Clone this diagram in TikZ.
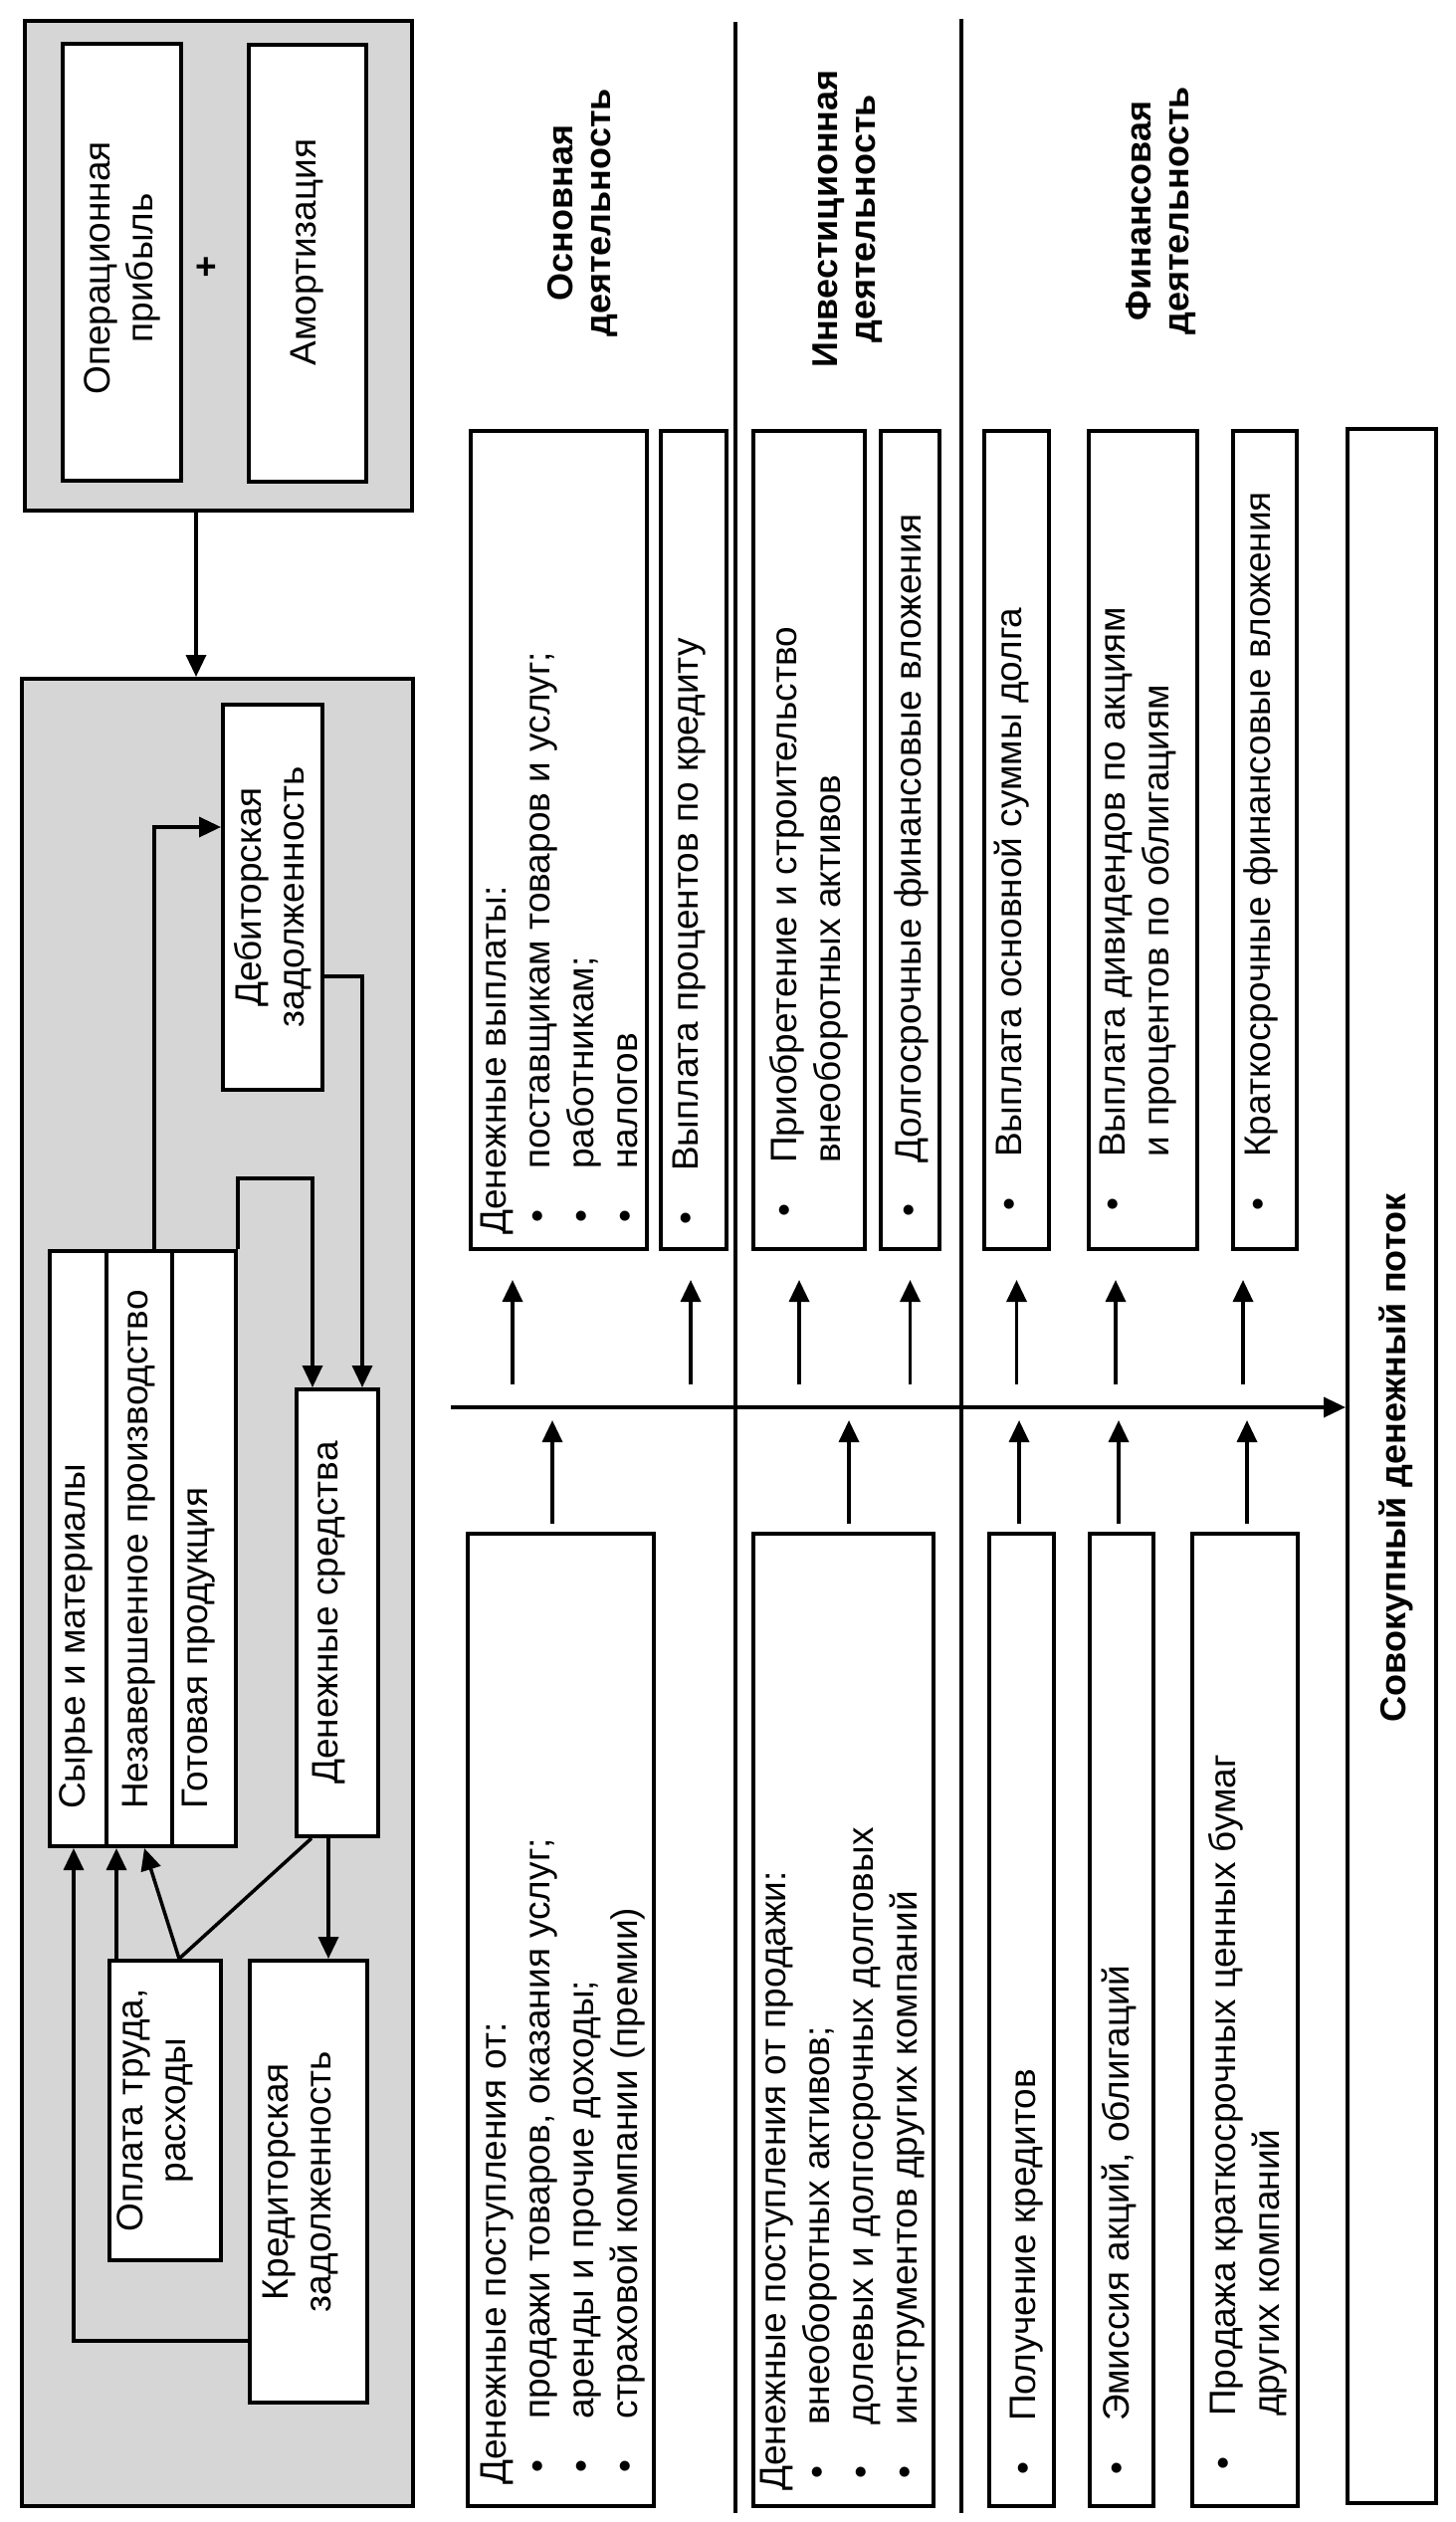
\documentclass[tikz,border=0pt]{standalone}
\usepackage{fontspec}
\setmainfont{Liberation Sans}
\usetikzlibrary{arrows.meta,calc}
\newcommand{\bl}{\makebox[66pt][l]{\hspace{12pt}•}}
\newcommand{\ind}{\hspace*{66pt}}
\begin{document}
\begin{tikzpicture}[x=1pt,y=-1pt,
  box/.style={draw, line width=4pt, fill=white, inner sep=0pt},
  grp/.style={draw, line width=4pt, fill=black!16, inner sep=0pt},
  txt/.style={rotate=90, inner sep=0pt, anchor=north west, font=\fontsize{37pt}{44pt}\selectfont, align=left},
  ctxt/.style={rotate=90, inner sep=0pt, font=\fontsize{37pt}{43pt}\selectfont, align=center},
  wtxt/.style={rotate=90, inner sep=0pt, anchor=west, font=\fontsize{37pt}{43pt}\selectfont},
  btxt/.style={rotate=90, inner sep=0pt, font=\bfseries\fontsize{36pt}{38pt}\selectfont, align=center},
  arr/.style={line width=3.5pt, -{Triangle[length=22pt,width=20pt]}},
  ln/.style={line width=3.5pt},
]
\useasboundingbox (0,0) rectangle (1462,2534);

% ---------- left group ----------
\node[grp, minimum width=389pt, minimum height=492pt] (tb) at (219.5,267) {};
\node[box, minimum width=119pt, minimum height=439pt] (op) at (122.5,263.5) {};
\node[box, minimum width=118pt, minimum height=439pt] (am) at (309,264.5) {};

\node[grp, minimum width=393pt, minimum height=1836pt] (bb) at (218.5,1600) {};
\node[box, minimum width=100pt, minimum height=387pt] (dz) at (274,901.5) {};
\node[box, minimum width=57pt, minimum height=598pt] (s1) at (78.5,1556) {};
\node[box, minimum width=66pt, minimum height=598pt] (s2) at (140,1556) {};
\node[box, minimum width=64pt, minimum height=598pt] (s3) at (205,1556) {};
\node[box, minimum width=82pt, minimum height=449pt] (ds) at (339,1620.5) {};
\node[box, minimum width=112pt, minimum height=301pt] (ot) at (166,2120.5) {};
\node[box, minimum width=118pt, minimum height=444pt] (kz) at (310,2192) {};

% texts left group
\node[ctxt] (opt) at ([yshift=-6pt]op.center) {Операционная\\прибыль};
\node[font=\bfseries\fontsize{37pt}{37pt}\selectfont, inner sep=0pt] (plus) at (207,270) {+};
\node[ctxt] (amt) at ([yshift=11pt]am.center) {Амортизация};
\node[ctxt] (dzt) at (dz.center) {Дебиторская\\задолженность};
\node[wtxt] (s1t) at (76,1818) {Сырье и материалы};
\node[wtxt] (s2t) at (140,1818) {Незавершенное производство};
\node[wtxt] (s3t) at (200,1818) {Готовая продукция};
\node[ctxt] (dst) at ([xshift=-8pt]ds.center) {Денежные средства};
\node[ctxt] (ott) at ([xshift=-10pt]ot.center) {Оплата труда,\\расходы};
\node[ctxt] (kzt) at ([xshift=-8pt]kz.center) {Кредиторская\\задолженность};

% connectors left group
\draw[arr] ([xshift=-22.5pt]tb.south) -- ([xshift=-22.5pt]tb.south |- bb.north);
\draw[arr] ([xshift=15pt]s2.north) |- ([yshift=70.5pt]dz.west);
\draw[arr] ([yshift=-79.5pt]dz.east) -| ([xshift=25pt]ds.north);
\draw[arr] (s3.north east) -- ++(0,-71) -| ([xshift=-25pt]ds.north);
\draw[arr] ([yshift=-160pt]kz.west) -| ([xshift=-4.5pt]s1.south);
\draw[arr] ([xshift=-49pt]ot.north) -- ([xshift=-49pt]ot.north |- s2.south);
\draw[arr] ([xshift=14pt]ot.north) -- ([xshift=5pt]s2.south);
\draw[ln] ([xshift=-26pt]ds.south) -- ([xshift=14pt]ot.north);
\draw[arr] ([xshift=-9pt]ds.south) -- ([xshift=-9pt]ds.south |- kz.north);

% ---------- right part ----------
% separators
\coordinate (s1top) at (739,22);
\coordinate (s1bot) at (739,2525);
\coordinate (s2top) at (966,19);
\coordinate (s2bot) at (966,2525);
\draw[ln] (s1top) -- (s1bot);
\draw[ln] (s2top) -- (s2bot);

% outflow boxes
\node[box, minimum width=177pt, minimum height=822pt] (o1) at (561.5,844) {};
\node[box, minimum width=66pt, minimum height=822pt] (o2) at (697,844) {};
\node[box, minimum width=112pt, minimum height=822pt] (io1) at (813,844) {};
\node[box, minimum width=59pt, minimum height=822pt] (io2) at (914.5,844) {};
\node[box, minimum width=65pt, minimum height=822pt] (fo1) at (1021.5,844) {};
\node[box, minimum width=109pt, minimum height=822pt] (fo2) at (1148.5,844) {};
\node[box, minimum width=64pt, minimum height=822pt] (fo3) at (1271,844) {};
% total
\node[box, minimum width=89pt, minimum height=2084pt] (tot) at (1398.5,1473) {};
% inflow boxes
\node[box, minimum width=187pt, minimum height=977pt] (p1) at (563.5,2029.5) {};
\node[box, minimum width=181pt, minimum height=977pt] (ip) at (847.5,2029.5) {};
\node[box, minimum width=65pt, minimum height=977pt] (fp1) at (1026.5,2029.5) {};
\node[box, minimum width=64pt, minimum height=977pt] (fp2) at (1127,2029.5) {};
\node[box, minimum width=106pt, minimum height=977pt] (fp3) at (1251,2029.5) {};

% axis
\coordinate (ax0) at (453,1414);
\draw[arr] (ax0) -- (tot.west |- ax0);

% outflow arrows
\draw[arr, shorten <=23pt, shorten >=29pt] ([xshift=-46.5pt]o1.south |- ax0) -- ([xshift=-46.5pt]o1.south);
\draw[arr, shorten <=23pt, shorten >=29pt] ([xshift=-3pt]o2.south |- ax0) -- ([xshift=-3pt]o2.south);
\draw[arr, shorten <=23pt, shorten >=29pt] ([xshift=-10pt]io1.south |- ax0) -- ([xshift=-10pt]io1.south);
\draw[arr, shorten <=23pt, shorten >=29pt] (io2.south |- ax0) -- (io2.south);
\draw[arr, shorten <=23pt, shorten >=29pt] (fo1.south |- ax0) -- (fo1.south);
\draw[arr, shorten <=23pt, shorten >=29pt] ([xshift=-27.5pt]fo2.south |- ax0) -- ([xshift=-27.5pt]fo2.south);
\draw[arr, shorten <=23pt, shorten >=29pt] ([xshift=-22pt]fo3.south |- ax0) -- ([xshift=-22pt]fo3.south);

% inflow arrows
\draw[arr, shorten <=8pt, shorten >=13pt] ([xshift=-8.5pt]p1.north) -- ([xshift=-8.5pt]p1.north |- ax0);
\draw[arr, shorten <=8pt, shorten >=13pt] ([xshift=5.5pt]ip.north) -- ([xshift=5.5pt]ip.north |- ax0);
\draw[arr, shorten <=8pt, shorten >=13pt] ([xshift=-2.5pt]fp1.north) -- ([xshift=-2.5pt]fp1.north |- ax0);
\draw[arr, shorten <=8pt, shorten >=13pt] ([xshift=-3pt]fp2.north) -- ([xshift=-3pt]fp2.north |- ax0);
\draw[arr, shorten <=8pt, shorten >=13pt] ([xshift=2pt]fp3.north) -- ([xshift=2pt]fp3.north |- ax0);

% headings
\node[btxt] (h1) at (586,214) {Основная\\деятельность};
\node[btxt] (h2) at (851.5,220) {Инвестиционная\\деятельность};
\node[btxt] (h3) at (1167,212) {Финансовая\\деятельность};
\node[btxt] (tott) at ([xshift=4pt,yshift=8pt]tot.center) {Совокупный денежный поток};

% outflow texts
\node[txt] (o1t) at (483,1241) {Денежные выплаты:\\\bl поставщикам товаров и услуг;\\\bl работникам;\\\bl налогов};
\node[txt] (o2t) at (676,1243) {\bl Выплата процентов по кредиту};
\node[txt] (io1t) at (773,1235) {\bl Приобретение и строительство\\\ind внеоборотных активов};
\node[txt] (io2t) at (898,1235) {\bl Долгосрочные финансовые вложения};
\node[txt] (fo1t) at (999,1229) {\bl Выплата основной суммы долга};
\node[txt] (fo2t) at (1105,1229) {\bl Выплата дивидендов по акциям\\\ind и процентов по облигациям};
\node[txt] (fo3t) at (1249,1229) {\bl Краткосрочные финансовые вложения};

% inflow texts
\node[txt] (p1t) at (483,2497) {Денежные поступления от:\\\bl продажи товаров, оказания услуг;\\\bl аренды и прочие доходы;\\\bl страховой компании (премии)};
\node[txt] (ipt) at (764,2503) {Денежные поступления от продажи:\\\bl внеоборотных активов;\\\bl долевых и долгосрочных долговых\\\bl инструментов других компаний};
\node[txt] (fp1t) at (1015,2499) {\bl Получение кредитов};
\node[txt] (fp2t) at (1107,2499) {\bl Эмиссия акций, облигаций};
\node[txt] (fp3t) at (1214,2494) {\bl Продажа краткосрочных ценных бумаг\\\ind других компаний};
\end{tikzpicture}
\end{document}
